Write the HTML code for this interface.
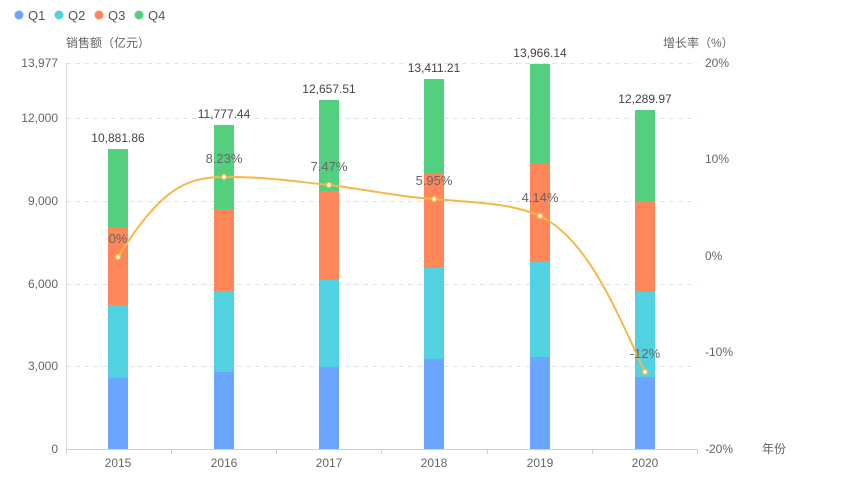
<!DOCTYPE html>
<html><head><meta charset="utf-8"><style>
body{margin:0;background:#fff;}
svg{display:block;font-family:"Liberation Sans","Noto Sans CJK SC",sans-serif;}
</style></head><body>
<svg width="856" height="480" viewBox="0 0 856 480">
<!-- legend -->
<g font-size="13" fill="#555">
<circle cx="19" cy="15" r="4.5" fill="#6aa5ff"/><text x="28" y="20">Q1</text>
<circle cx="59" cy="15" r="4.5" fill="#52d1e0"/><text x="68" y="20">Q2</text>
<circle cx="99" cy="15" r="4.5" fill="#ff8659"/><text x="108" y="20">Q3</text>
<circle cx="139" cy="15" r="4.5" fill="#52d07f"/><text x="148" y="20">Q4</text>
</g>
<g font-size="12" fill="#666">
<text x="66" y="47">销售额（亿元）</text>
<text x="663" y="47">增长率（%）</text>
<text x="762" y="453">年份</text>
</g>
<!-- grid -->
<g stroke="#e0e3ee" stroke-dasharray="5,4">
<line x1="66" y1="63.5" x2="697" y2="63.5"/>
<line x1="66" y1="118.5" x2="697" y2="118.5"/>
<line x1="66" y1="201.5" x2="697" y2="201.5"/>
<line x1="66" y1="284.5" x2="697" y2="284.5"/>
<line x1="66" y1="366.5" x2="697" y2="366.5"/>
</g>
<line x1="66.5" y1="63" x2="66.5" y2="449" stroke="#d6dde3"/>
<line x1="66" y1="449.5" x2="697" y2="449.5" stroke="#c9d3d6"/>
<g stroke="#c9d3d6">
<line x1="66.5" y1="449" x2="66.5" y2="454"/><line x1="171.5" y1="449" x2="171.5" y2="454"/>
<line x1="276.5" y1="449" x2="276.5" y2="454"/><line x1="381.5" y1="449" x2="381.5" y2="454"/>
<line x1="487.5" y1="449" x2="487.5" y2="454"/><line x1="592.5" y1="449" x2="592.5" y2="454"/>
<line x1="697.5" y1="449" x2="697.5" y2="454"/>
</g>
<g font-size="12" fill="#666" text-anchor="end">
<text x="58" y="67">13,977</text><text x="58" y="122">12,000</text><text x="58" y="205">9,000</text>
<text x="58" y="288">6,000</text><text x="58" y="370">3,000</text><text x="58" y="453">0</text>
</g>
<g font-size="12" fill="#666">
<text x="705" y="67">20%</text><text x="705" y="163">10%</text><text x="705" y="260">0%</text>
<text x="705" y="356">-10%</text><text x="705" y="453">-20%</text>
</g>
<g font-size="12" fill="#666" text-anchor="middle">
<text x="118" y="467">2015</text><text x="224" y="467">2016</text><text x="329" y="467">2017</text>
<text x="434" y="467">2018</text><text x="540" y="467">2019</text><text x="645" y="467">2020</text>
</g>
<!-- bars -->
<g>
<rect x="108" y="378" width="20" height="71" fill="#6aa5ff"/><rect x="108" y="305" width="20" height="73" fill="#52d1e0"/><rect x="108" y="227" width="20" height="78" fill="#ff8659"/><rect x="108" y="149" width="20" height="78" fill="#52d07f"/>
<rect x="214" y="372" width="20" height="77" fill="#6aa5ff"/><rect x="214" y="291" width="20" height="81" fill="#52d1e0"/><rect x="214" y="209" width="20" height="82" fill="#ff8659"/><rect x="214" y="125" width="20" height="84" fill="#52d07f"/>
<rect x="319" y="367" width="20" height="82" fill="#6aa5ff"/><rect x="319" y="280" width="20" height="87" fill="#52d1e0"/><rect x="319" y="191" width="20" height="89" fill="#ff8659"/><rect x="319" y="100" width="20" height="91" fill="#52d07f"/>
<rect x="424" y="359" width="20" height="90" fill="#6aa5ff"/><rect x="424" y="268" width="20" height="91" fill="#52d1e0"/><rect x="424" y="173" width="20" height="95" fill="#ff8659"/><rect x="424" y="79" width="20" height="94" fill="#52d07f"/>
<rect x="530" y="357" width="20" height="92" fill="#6aa5ff"/><rect x="530" y="262" width="20" height="95" fill="#52d1e0"/><rect x="530" y="164" width="20" height="98" fill="#ff8659"/><rect x="530" y="64" width="20" height="100" fill="#52d07f"/>
<rect x="635" y="377" width="20" height="72" fill="#6aa5ff"/><rect x="635" y="292" width="20" height="85" fill="#52d1e0"/><rect x="635" y="201" width="20" height="91" fill="#ff8659"/><rect x="635" y="110" width="20" height="91" fill="#52d07f"/>
</g>
<g font-size="12" fill="#444" text-anchor="middle">
<text x="118" y="142">10,881.86</text><text x="224" y="118">11,777.44</text><text x="329" y="93">12,657.51</text>
<text x="434" y="72">13,411.21</text><text x="540" y="57">13,966.14</text><text x="645" y="103">12,289.97</text>
</g>
<!-- line -->
<path d="M118,257 C160,190 185,177 224,177 C270,177 290,181 329,185 C370,190 400,197 434,199 C480,203 510,203 540,216 C590,240 620,320 645,372" fill="none" stroke="#f7b84b" stroke-width="2"/>
<g fill="#fff" stroke="#f7b84b" stroke-width="1.5">
<circle cx="118" cy="257" r="2.5"/><circle cx="224" cy="177" r="2.5"/><circle cx="329" cy="185" r="2.5"/>
<circle cx="434" cy="199" r="2.5"/><circle cx="540" cy="216" r="2.5"/><circle cx="645" cy="372" r="2.5"/>
</g>
<g font-size="13" fill="#666" text-anchor="middle">
<text x="118" y="243">0%</text><text x="224" y="163">8.23%</text><text x="329" y="171">7.47%</text>
<text x="434" y="185">5.95%</text><text x="540" y="202">4.14%</text><text x="645" y="358">-12%</text>
</g>
</svg>
</body></html>
